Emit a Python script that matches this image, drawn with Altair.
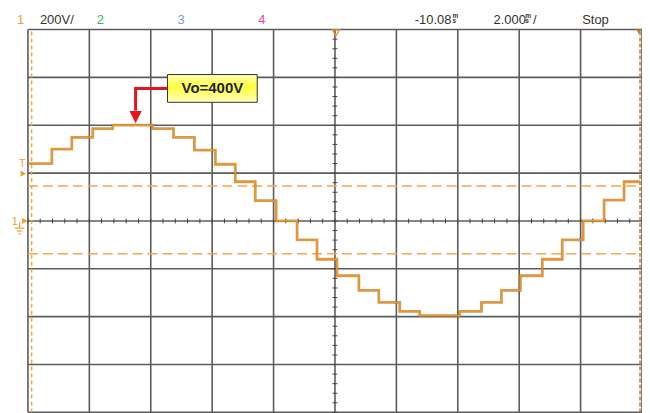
import altair as alt
import pandas as pd
import numpy as np

# ---------------- data ----------------
# time (ms, 2 ms/div) of each step start, and level held (V, 200 V/div)
step_t = [0.0, 0.779, 1.429, 2.110, 2.760, 4.058, 4.740, 5.422, 6.104, 6.753,
          7.403, 8.084, 8.766, 9.416, 10.065, 10.779, 11.429, 12.110, 12.760,
          14.058, 14.773, 15.422, 16.039, 16.753, 17.403, 18.084, 18.766,
          19.416, 19.935]
step_v = [240, 300, 349, 386, 401, 386, 349, 296, 237, 164,
          85, 0, -79, -160, -229, -290, -340, -378, -396,
          -378, -340, -290, -229, -160, -79, 0, 87,
          164, 164]

# graticule: 10 divisions of 2 ms, 8 divisions of 200 V
grid_t = [0, 2, 4, 6, 8, 10, 12, 14, 16, 18, 20]
grid_v = [-800, -600, -400, -200, 0, 200, 400, 600, 800]

# cursor levels (V)
cursor_v = [146, -137]

# header texts
hdr_text = ["1", "200V/", "2", "3", "4", "-10.08", "2.000", "/", "Stop"]
hdr_t = [-0.357, 0.390, 2.240, 4.870, 7.500, 12.597, 15.162, 16.45, 18.052]
hdr_col = ["#F0A030", "#333333", "#3DB54A", "#7F93DB", "#E2479F",
           "#333333", "#333333", "#333333", "#333333"]
unit_t = [13.83, 16.20]

# annotation
note_text = "Vo=400V"
note_box_t = [4.545, 7.468]
note_box_v = [496, 612]
arrow_t = [4.545, 3.506, 3.506]
arrow_v = [554, 554, 462]
arrow_head = (3.506, 434)

T_DOM = [0, 20]
V_DOM = [-800, 800]
sx = alt.Scale(domain=T_DOM, nice=False, zero=False)
sy = alt.Scale(domain=V_DOM, nice=False, zero=False)

FONT = "Liberation Sans"
ORANGE = "#E8952A"
GRID = "#5c5c5c"


def X(f="t"):
    return alt.X(f"{f}:Q", scale=sx, axis=None)


def Y(f="v"):
    return alt.Y(f"{f}:Q", scale=sy, axis=None)


# ---------------- graticule ----------------
gv_df = pd.DataFrame({"t": grid_t, "v": V_DOM[0], "v2": V_DOM[1]})
gh_df = pd.DataFrame({"t": T_DOM[0], "t2": T_DOM[1], "v": grid_v})
grid_vl = alt.Chart(gv_df).mark_rule(color=GRID, strokeWidth=1.6).encode(x=X(), y=Y(), y2="v2:Q")
grid_hl = alt.Chart(gh_df).mark_rule(color=GRID, strokeWidth=1.6).encode(x=X(), x2="t2:Q", y=Y())

# minor ticks on the centre cross (1/5 division)
mt = np.round(np.arange(0, 20.001, 0.4), 3)
mv = np.arange(-800, 801, 40)
tick_h = pd.DataFrame({"t": mt, "v": -10.0, "v2": 10.0})
tick_v = pd.DataFrame({"t": 9.92, "t2": 10.08, "v": mv})
ticks_h = alt.Chart(tick_h).mark_rule(color="#444444", strokeWidth=1).encode(x=X(), y=Y(), y2="v2:Q")
ticks_v = alt.Chart(tick_v).mark_rule(color="#444444", strokeWidth=1).encode(x=X(), x2="t2:Q", y=Y())

# ---------------- cursors ----------------
cur_df = pd.DataFrame({"t": [0.0] * len(cursor_v), "t2": [20.0] * len(cursor_v), "v": cursor_v})
cursors = alt.Chart(cur_df).mark_rule(color="#F2A84C", strokeWidth=1.6, strokeDash=[10, 5]).encode(
    x=X(), x2="t2:Q", y=Y())

vdash_l = alt.Chart(pd.DataFrame({"t": [0.12], "v": [-800], "v2": [800]})).mark_rule(
    color="#F4A640", strokeWidth=1.5, strokeDash=[4, 3]).encode(x=X(), y=Y(), y2="v2:Q")
vdash_r = alt.Chart(pd.DataFrame({"t": [19.935], "v": [-800], "v2": [800]})).mark_rule(
    color="#CC7A28", strokeWidth=1.5, strokeDash=[4, 2]).encode(x=X(), y=Y(), y2="v2:Q")

# ---------------- waveform ----------------
wave_df = pd.DataFrame({"t": step_t, "v": step_v})
wave_shadow = alt.Chart(wave_df).mark_line(interpolate="step-after", color="#9A5A14",
                                           strokeWidth=2.8, opacity=0.55).encode(x=X(), y=Y())
wave = alt.Chart(wave_df).mark_line(interpolate="step-after", color=ORANGE,
                                    strokeWidth=1.8).encode(x=X(), y=Y())

# ---------------- header ----------------
hdr_df = pd.DataFrame({"t": hdr_t, "v": [825] * len(hdr_t), "txt": hdr_text, "c": hdr_col})
header = alt.Chart(hdr_df).mark_text(align="left", baseline="alphabetic", font=FONT,
                                     fontSize=13).encode(
    x=X(), y=Y(), text="txt:N", color=alt.Color("c:N", scale=None))
unit_df = pd.DataFrame({"t": unit_t * 2, "v": [850, 850, 827, 827], "txt": ["m", "m", "s", "s"]})
units = alt.Chart(unit_df).mark_text(align="left", baseline="alphabetic", font=FONT,
                                     fontSize=6.5, fontWeight="bold", color="#333333").encode(
    x=X(), y=Y(), text="txt:N")

# ---------------- scope markers ----------------
lbl_df = pd.DataFrame({"t": [-0.18, -0.43], "v": [225, -17], "txt": ["T", "1"]})
side_lbl = alt.Chart(lbl_df).mark_text(align="center", baseline="alphabetic", font=FONT,
                                       fontSize=11, color="#F0A030").encode(
    x=X(), y=Y(), text="txt:N")
tri_r = alt.Chart(pd.DataFrame({"t": [-0.15, -0.10], "v": [198, 0]})).mark_point(
    shape="triangle-right", filled=True, size=40, color="#F0A030", opacity=1).encode(x=X(), y=Y())
gnd_df = pd.DataFrame({"t": [-0.27, -0.42, -0.36, -0.31], "t2": [-0.27, -0.12, -0.18, -0.23],
                       "v": [-5, -30, -42, -54], "v2": [-30, -30, -42, -54]})
ground = alt.Chart(gnd_df).mark_rule(color="#F0A030", strokeWidth=1.2).encode(
    x=X(), x2="t2:Q", y=Y(), y2="v2:Q")
top_mark = alt.Chart(pd.DataFrame({"t": [10.03], "v": [786]})).mark_point(
    shape="triangle-down", filled=False, size=50, color="#E8952A", strokeWidth=1.3,
    opacity=1).encode(x=X(), y=Y())
corner_mark = alt.Chart(pd.DataFrame({"t": [19.9], "v": [790]})).mark_point(
    shape="triangle-down", filled=True, size=30, color="#E07A20", opacity=1).encode(x=X(), y=Y())

# ---------------- annotation ----------------
box_df = pd.DataFrame({"t": [note_box_t[0]], "t2": [note_box_t[1]],
                       "v": [note_box_v[0]], "v2": [note_box_v[1]]})
box = alt.Chart(box_df).mark_rect(
    fill=alt.LinearGradient(gradient="linear", x1=0, y1=0, x2=0, y2=1,
                            stops=[alt.GradientStop(offset=0, color="#FFFFB8"),
                                   alt.GradientStop(offset=0.45, color="#FFFF3A"),
                                   alt.GradientStop(offset=1, color="#FFFFC0")]),
    stroke="#333333", strokeWidth=1).encode(x=X(), x2="t2:Q", y=Y(), y2="v2:Q")
note = alt.Chart(pd.DataFrame({"t": [sum(note_box_t) / 2], "v": [sum(note_box_v) / 2],
                               "txt": [note_text]})).mark_text(
    font=FONT, fontSize=15, fontWeight="bold", color="#1E2050", align="center",
    baseline="middle").encode(x=X(), y=Y(), text="txt:N")
arrow_df = pd.DataFrame({"t": arrow_t, "v": arrow_v, "o": list(range(len(arrow_t)))})
arrow = alt.Chart(arrow_df).mark_line(color="#E8141C", strokeWidth=3, strokeJoin="miter").encode(
    x=X(), y=Y(), order="o:Q")
head = alt.Chart(pd.DataFrame({"t": [arrow_head[0]], "v": [arrow_head[1]]})).mark_point(
    shape="M-1,-1L1,-1L0,1Z", filled=True, size=150, color="#E8141C", opacity=1).encode(x=X(), y=Y())

chart = alt.layer(
    grid_vl, grid_hl, ticks_h, ticks_v, cursors, vdash_l, vdash_r, wave_shadow, wave,
    header, units, side_lbl, tri_r, ground, top_mark, corner_mark,
    arrow, head, box, note,
).properties(
    width=616, height=384,
    autosize=alt.AutoSizeParams(type="none"),
    padding={"left": 20, "top": 21, "right": 0, "bottom": 0},
    background="white",
).configure_view(stroke=None)

chart.save("out.html", embed_options={"renderer": "svg", "actions": False})
